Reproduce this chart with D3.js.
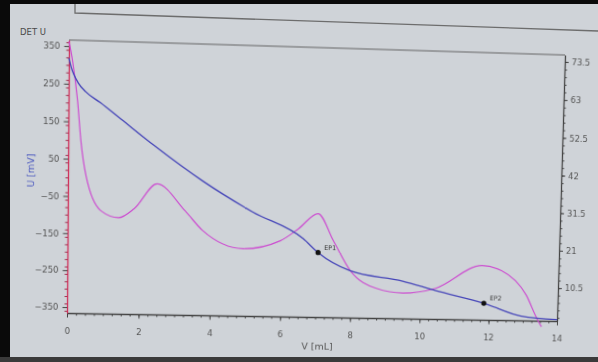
<!DOCTYPE html>
<html>
<head>
<meta charset="utf-8">
<script src="https://cdn.jsdelivr.net/npm/d3@7"></script>
<style>
  body { margin: 0; background: #000; }
  #canvas { position: relative; width: 598px; height: 362px; overflow: hidden; }
  #canvas svg { position: absolute; left: 0; top: 0; }
  text { font-family: "DejaVu Sans", Verdana, sans-serif; }
</style>
</head>
<body>
<div id="canvas"></div>
<script>
"use strict"

// blue curve: potential U [mV] vs volume (left axis)
let blueV = [0, 0.06, 0.14, 0.27, 0.47, 0.88, 1.45, 2.40, 3.75, 5.17, 6.62, 7.05, 7.97, 9.49, 10.43, 11.85, 12.95, 14];
let blueU = [318, 296, 275, 252, 230, 202, 160, 90, -1, -82, -152, -189, -237, -263, -287, -320, -354, -362];

// magenta curve: right axis values
let magV = [0, 0.10, 0.25, 0.35, 0.50, 0.92, 1.41, 1.85, 2.48, 3.28, 3.77, 4.92, 5.97, 6.48, 7.03, 7.48, 7.98, 8.73, 9.50, 10.44, 11.77, 12.34, 13.08, 13.43, 13.55];
let magR = [75, 70.0, 59.1, 48.3, 38.8, 29.4, 27.6, 30.2, 37.1, 29.8, 24.6, 19.8, 22.2, 25.6, 29.9, 22.5, 14.3, 9.5, 8.3, 9.8, 16.4, 15.1, 8.3, 1.4, -0.5];

// equivalence points
let epNames = ["EP1", "EP2"];
let epV = [7.05, 11.85];
let epU = [-189, -320];

let xTicks = [0, 2, 4, 6, 8, 10, 12, 14];
let leftTicks = [-350, -250, -150, -50, 50, 150, 250, 350];
let rightTicks = [10.5, 21, 31.5, 42, 52.5, 63, 73.5];

let drawingWidth = 598;
let drawingHeight = 362;
let plotWidth = 493;
let plotHeight = 270;
let ox = 80;
let oy = 50;

// where the plot corners sit in the (photographed, tilted) picture
let cornersFrom = [[ox, oy], [ox + plotWidth, oy], [ox, oy + plotHeight], [ox + plotWidth, oy + plotHeight]];
let cornersTo = [[69, 40], [565, 55], [67, 313], [557, 321]];

let drawing = d3.select("#canvas")
    .append("svg")
    .attr("width", drawingWidth)
    .attr("height", drawingHeight);

// screen background and photo edges
drawing.append("rect")
    .attr("width", drawingWidth)
    .attr("height", drawingHeight)
    .attr("fill", "#cfd3d8");
drawing.append("rect").attr("x", 0).attr("y", 0).attr("width", 10).attr("height", drawingHeight).attr("fill", "#0a0a0a");
drawing.append("rect").attr("x", 0).attr("y", 0).attr("width", drawingWidth).attr("height", 4).attr("fill", "#0a0a0a");
drawing.append("rect").attr("x", 0).attr("y", 357).attr("width", drawingWidth).attr("height", 5).attr("fill", "#3a3a3a");

// panel box at the top
drawing.append("polyline")
    .attr("points", "75,4 75,13 598,31")
    .attr("fill", "none")
    .attr("stroke", "#6d6d6d")
    .attr("stroke-width", 1.3);

drawing.append("text")
    .attr("x", 20)
    .attr("y", 35)
    .attr("font-size", 8.5)
    .attr("fill", "#4a4a4a")
    .text("DET U");

// homography so the plot follows the perspective of the photo
function solve(A, b) {
    let n = b.length;
    for (let i = 0; i < n; i++) {
        let p = i;
        for (let r = i + 1; r < n; r++) if (Math.abs(A[r][i]) > Math.abs(A[p][i])) p = r;
        [A[i], A[p]] = [A[p], A[i]];
        [b[i], b[p]] = [b[p], b[i]];
        for (let r = i + 1; r < n; r++) {
            let f = A[r][i] / A[i][i];
            for (let c = i; c < n; c++) A[r][c] -= f * A[i][c];
            b[r] -= f * b[i];
        }
    }
    let xs = new Array(n).fill(0);
    for (let i = n - 1; i >= 0; i--) {
        let s = b[i];
        for (let c = i + 1; c < n; c++) s -= A[i][c] * xs[c];
        xs[i] = s / A[i][i];
    }
    return xs;
}

let A = [];
let rhs = [];
cornersFrom.forEach((p, i) => {
    let [x0, y0] = p;
    let [X, Y] = cornersTo[i];
    A.push([x0, y0, 1, 0, 0, 0, -x0 * X, -y0 * X]); rhs.push(X);
    A.push([0, 0, 0, x0, y0, 1, -x0 * Y, -y0 * Y]); rhs.push(Y);
});
let [ha, hb, hc, hd, he, hf, hg, hh] = solve(A, rhs);
let m3d = "matrix3d(" + [ha, hd, 0, hg, hb, he, 0, hh, 0, 0, 1, 0, hc, hf, 0, 1].join(",") + ")";

let plotSvg = d3.select("#canvas")
    .append("svg")
    .attr("width", 700)
    .attr("height", 420)
    .style("transform-origin", "0 0")
    .style("transform", m3d);

let plot = plotSvg.append("g")
    .attr("transform", "translate(" + ox + "," + oy + ")");

let x = d3.scaleLinear().domain([0, 14]).range([0, plotWidth]);
let yLeft = d3.scaleLinear().domain([-366, 366]).range([plotHeight, 0]);
let yRight = d3.scaleLinear().domain([1.2, 75.4]).range([plotHeight, 0]);

// top frame line
plot.append("line")
    .attr("x1", 0).attr("x2", plotWidth)
    .attr("y1", 0).attr("y2", 0)
    .attr("stroke", "#666")
    .attr("stroke-width", 1.2);

function styleAxis(g, lineColor) {
    g.select(".domain").attr("stroke", lineColor).attr("stroke-width", 1.3);
    g.selectAll(".tick line").attr("stroke", "#444");
    g.selectAll("text").attr("fill", "#555").attr("font-size", 8.5)
        .attr("font-family", "DejaVu Sans, Verdana, sans-serif");
}

// minor ticks
plot.append("g")
    .attr("transform", "translate(0," + plotHeight + ")")
    .call(d3.axisBottom(x).tickValues(d3.range(0, 14.01, 0.25)).tickSize(2.5).tickFormat(""))
    .call(g => { g.select(".domain").remove(); g.selectAll("line").attr("stroke", "#444"); });
plot.append("g")
    .call(d3.axisLeft(yLeft).tickValues(d3.range(-360, 361, 20)).tickSize(2.5).tickFormat(""))
    .call(g => { g.select(".domain").remove(); g.selectAll("line").attr("stroke", "#a03050"); });
plot.append("g")
    .attr("transform", "translate(" + plotWidth + ",0)")
    .call(d3.axisRight(yRight).tickValues(d3.range(2.1, 75.4, 2.1)).tickSize(2.5).tickFormat(""))
    .call(g => { g.select(".domain").remove(); g.selectAll("line").attr("stroke", "#444"); });

// main axes
plot.append("g")
    .attr("transform", "translate(0," + plotHeight + ")")
    .call(d3.axisBottom(x).tickValues(xTicks).tickSize(4.5).tickPadding(10).tickSizeOuter(0))
    .call(g => styleAxis(g, "#444"));

plot.append("g")
    .call(d3.axisLeft(yLeft).tickValues(leftTicks).tickSize(4.5).tickPadding(4).tickSizeOuter(0))
    .call(g => styleAxis(g, "#d0305a"));

plot.append("g")
    .attr("transform", "translate(" + plotWidth + ",0)")
    .call(d3.axisRight(yRight).tickValues(rightTicks).tickSize(4).tickPadding(3).tickSizeOuter(0)
        .tickFormat(d => (d % 1 ? d.toFixed(1) : String(d))))
    .call(g => styleAxis(g, "#444"));

// axis titles
plot.append("text")
    .attr("x", 249)
    .attr("y", 303)
    .attr("text-anchor", "middle")
    .attr("font-size", 9.5)
    .attr("fill", "#555")
    .text("V [mL]");

plot.append("text")
    .attr("transform", "translate(-33,129) rotate(-90)")
    .attr("text-anchor", "middle")
    .attr("font-size", 9.5)
    .attr("fill", "#4f5cc0")
    .text("U [mV]");

// curves
let magLine = d3.line()
    .x((d, i) => x(magV[i]))
    .y(d => yRight(d))
    .curve(d3.curveMonotoneX);

let blueLine = d3.line()
    .x((d, i) => x(blueV[i]))
    .y(d => yLeft(d))
    .curve(d3.curveMonotoneX);

plot.append("path")
    .attr("d", magLine(magR))
    .attr("fill", "none")
    .attr("stroke", "#cc4fd0")
    .attr("stroke-width", 1.2);

plot.append("path")
    .attr("d", blueLine(blueU))
    .attr("fill", "none")
    .attr("stroke", "#4444b8")
    .attr("stroke-width", 1.3);

// equivalence points
epNames.forEach((name, i) => {
    plot.append("circle")
        .attr("cx", x(epV[i]))
        .attr("cy", yLeft(epU[i]))
        .attr("r", 2.6)
        .attr("fill", "#111");
    plot.append("text")
        .attr("x", x(epV[i]) + 6)
        .attr("y", yLeft(epU[i]) - 3)
        .attr("font-size", 6.5)
        .attr("fill", "#333")
        .text(name);
});
</script>
</body>
</html>
